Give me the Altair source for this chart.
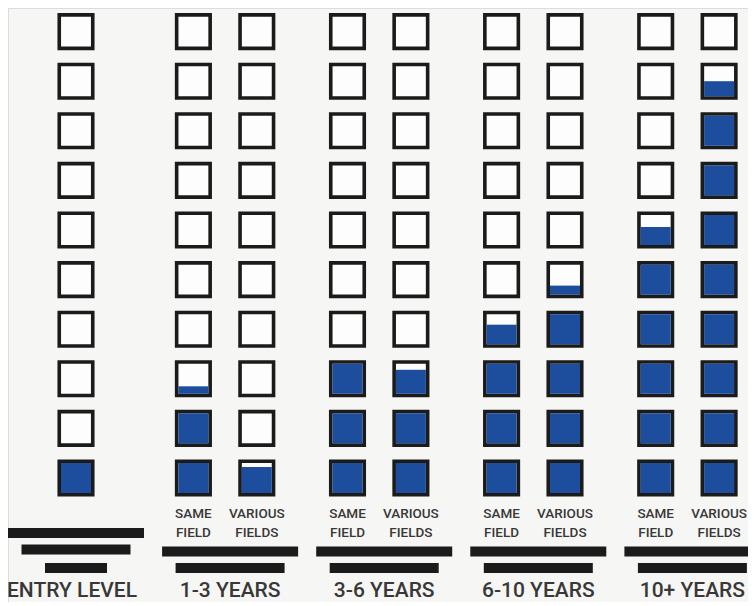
import altair as alt
import pandas as pd

# ---- data ----
groups = ["ENTRY LEVEL", "1-3 YEARS", "3-6 YEARS", "6-10 YEARS", "10+ YEARS"]
same_field = [1.0, 2.25, 3.0, 3.65, 5.6]          # boxes filled (entry level = single column)
various_fields = [None, 0.87, 2.8, 4.3, 8.5]
sub_labels = [["SAME", "FIELD"], ["VARIOUS", "FIELDS"]]
n_boxes = 10

# ---- layout (group units on x, box units on y) ----
W, H = 740, 594
ROW_PX = 49.6
GROUP_PX = 154.1
X_DOMAIN = [-68 / GROUP_PX, (W - 68) / GROUP_PX]
Y_DOMAIN = [1 - (H - 470) / ROW_PX, 1 + 470 / ROW_PX]
PAIR_SHIFT = -5 / GROUP_PX
PAIR_HALF = 31.7 / GROUP_PX
OUT_HX, OUT_HY = 16.75 / GROUP_PX, 16.75 / ROW_PX
IN_HX, IN_HY = 15 / GROUP_PX, 15 / ROW_PX
BAR_HY = 5 / ROW_PX
SUB_Y = [1 + (470 - 509.5) / ROW_PX, 1 + (470 - 529) / ROW_PX]
GROUP_Y = 1 - 119 / ROW_PX
ENTRY_SHIFT = -4 / GROUP_PX
ENTRY_BARS = [(68 / GROUP_PX, 1 - 55 / ROW_PX), (54.5 / GROUP_PX, 1 - 71.5 / ROW_PX), (31 / GROUP_PX, 1 - 90 / ROW_PX)]
OTHER_BARS = [(68 / GROUP_PX, 1 - 73.5 / ROW_PX), (54.5 / GROUP_PX, 1 - 90 / ROW_PX)]

BLUE = "#1d4e9e"
INK = "#1b1b1b"
TEXT = "#383838"
FONT = "Roboto"

columns = []
for g, name in enumerate(groups):
    if various_fields[g] is None:
        columns.append((g, 0.0, same_field[g], None))
    else:
        columns.append((g, PAIR_SHIFT - PAIR_HALF, same_field[g], 0))
        columns.append((g, PAIR_SHIFT + PAIR_HALF, various_fields[g], 1))

box_rows, fill_rows, label_rows, bar_rows, group_rows = [], [], [], [], []
for g, off, val, kind in columns:
    cx = g + off
    for r in range(1, n_boxes + 1):
        box_rows.append(dict(x=cx - OUT_HX, x2=cx + OUT_HX, y=r - OUT_HY, y2=r + OUT_HY))
        f = min(max(val - (r - 1), 0.0), 1.0)
        if f > 0:
            fill_rows.append(dict(x=cx - IN_HX, x2=cx + IN_HX, y=r - IN_HY,
                                  y2=r - IN_HY + 2 * IN_HY * f))
    if kind is not None:
        for i, t in enumerate(sub_labels[kind]):
            label_rows.append(dict(x=cx, y=SUB_Y[i], text=t))

for g, name in enumerate(groups):
    bars = ENTRY_BARS if g == 0 else OTHER_BARS
    for half, yc in bars:
        bar_rows.append(dict(x=g - half, x2=g + half, y=yc - BAR_HY, y2=yc + BAR_HY))
    group_rows.append(dict(x=g + (ENTRY_SHIFT if g == 0 else 0.0), y=GROUP_Y, text=name))

xs = alt.Scale(domain=X_DOMAIN, nice=False, zero=False)
ys = alt.Scale(domain=Y_DOMAIN, nice=False, zero=False)


def rect_layer(rows, **mark):
    return alt.Chart(pd.DataFrame(rows)).mark_rect(**mark).encode(
        x=alt.X("x:Q", scale=xs, axis=None),
        x2="x2:Q",
        y=alt.Y("y:Q", scale=ys, axis=None),
        y2="y2:Q",
    )


boxes = rect_layer(box_rows, fill="#fdfdfd", stroke=INK, strokeWidth=3.6)
fills = rect_layer(fill_rows, fill=BLUE)
bars = rect_layer(bar_rows, fill=INK)

sub_text = alt.Chart(pd.DataFrame(label_rows)).mark_text(
    font=FONT, fontSize=13.5, fontWeight=500, color=TEXT, align="center", baseline="alphabetic"
).encode(
    x=alt.X("x:Q", scale=xs, axis=None),
    y=alt.Y("y:Q", scale=ys, axis=None),
    text="text:N",
)

group_text = alt.Chart(pd.DataFrame(group_rows)).mark_text(
    font=FONT, fontSize=21, fontWeight=500, color=TEXT, align="center", baseline="alphabetic"
).encode(
    x=alt.X("x:Q", scale=xs, axis=None),
    y=alt.Y("y:Q", scale=ys, axis=None),
    text="text:N",
)

chart = alt.layer(boxes, fills, bars, sub_text, group_text).properties(
    width=W, height=H, padding=0, autosize="none"
).configure_view(stroke=None).configure(background="#f6f6f4")

chart.save("out.html", embed_options={"renderer": "svg", "actions": False})
